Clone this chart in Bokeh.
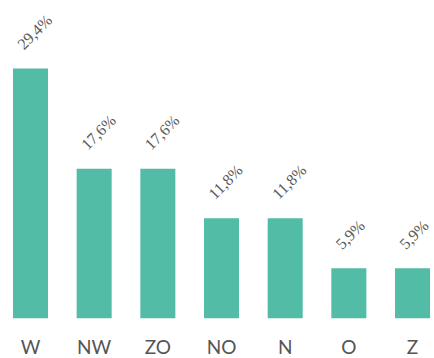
import math
from bokeh.plotting import figure
from bokeh.models import ColumnDataSource, Range1d, FixedTicker, LabelSet
from bokeh.embed import file_html
from bokeh.resources import INLINE

categories = ["W", "NW", "ZO", "NO", "N", "O", "Z"]
values = [29.4, 17.6, 17.6, 11.8, 11.8, 5.9, 5.9]
labels = ["29,4%", "17,6%", "17,6%", "11,8%", "11,8%", "5,9%", "5,9%"]

xs = list(range(len(categories)))
bar_w = 0.55
src = ColumnDataSource(dict(
    x=xs,
    top=values,
    lx=[x - bar_w / 2 for x in xs],
    label=labels,
))

p = figure(
    frame_width=427, frame_height=310,
    x_range=Range1d(-0.361, 6.345), y_range=Range1d(0, 36.46),
    output_backend="svg", toolbar_location=None, min_border=0,
    min_border_top=8, min_border_left=7, min_border_right=0,
)
p.vbar(x="x", top="top", bottom=0, width=bar_w, source=src,
       fill_color="#52bca6", line_color=None)

ls = LabelSet(x="lx", y="top", text="label", source=src,
              angle=math.pi / 4, x_offset=11, y_offset=18,
              text_font="Lato", text_font_size="16px", text_color="#5a5a5a",
              text_align="left", text_baseline="alphabetic")
p.add_layout(ls)

p.xaxis.ticker = FixedTicker(ticks=xs)
p.xaxis.major_label_overrides = {i: c for i, c in enumerate(categories)}
p.xaxis.axis_line_color = None
p.xaxis.major_tick_line_color = None
p.xaxis.minor_tick_line_color = None
p.xaxis.major_label_standoff = 10
p.xaxis.major_label_text_font = "Lato"
p.xaxis.major_label_text_font_size = "19px"
p.xaxis.major_label_text_color = "#555555"
p.yaxis.visible = False
p.grid.visible = False
p.outline_line_color = None

open("out.html", "w").write(file_html(p, INLINE))
